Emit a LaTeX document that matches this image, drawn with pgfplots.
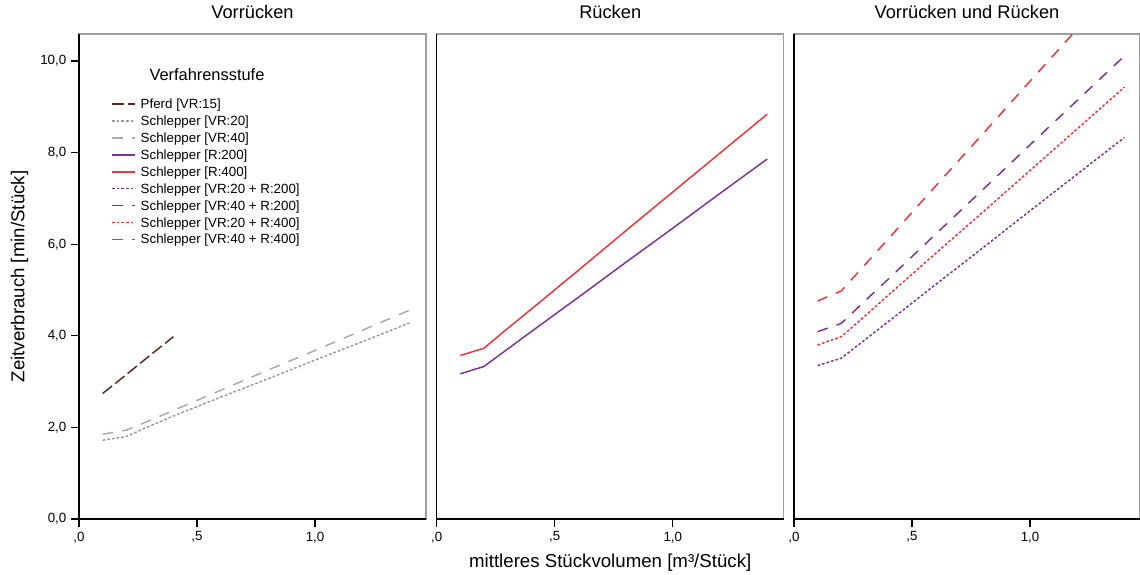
\documentclass[border=0pt]{standalone}
\usepackage{fontspec}
\setmainfont{Liberation Sans}
\usepackage{pgfplots}
\pgfplotsset{compat=1.18}
\definecolor{brn}{HTML}{5B2C1E}
\definecolor{gdot}{HTML}{999999}
\definecolor{gdash}{HTML}{AAAAAA}
\definecolor{purp}{HTML}{7D3391}
\definecolor{rd}{HTML}{F0323C}
\tikzset{
  pferd/.style={brn, line width=1.1pt, dash pattern=on 9pt off 3pt},
  vrzw/.style={gdot, line width=1.1pt, dash pattern=on 2pt off 1.5pt},
  vrvi/.style={gdash, line width=1.1pt, dash pattern=on 8pt off 7pt},
  rzw/.style={purp, line width=1.1pt},
  rvi/.style={rd, line width=1.1pt},
  czz/.style={purp, line width=1.1pt, dash pattern=on 2pt off 1.5pt},
  cvz/.style={purp, line width=1.1pt, dash pattern=on 8pt off 7pt},
  czv/.style={rd, line width=1.1pt, dash pattern=on 2pt off 1.5pt},
  cvv/.style={rd, line width=1.1pt, dash pattern=on 8pt off 7pt},
}
\pgfplotsset{panel/.style={
  scale only axis, width=260.25pt, height=363.75pt,
  xmin=0, xmax=1.47, ymin=0, ymax=10.59,
  xtick={0,0.5,1}, xticklabels={{,0},{,5},{1,0}},
  tick align=outside, xtick pos=left, ytick pos=left,
  major tick length=6pt,
  tick style={black, line width=0.9pt},
  axis line style={gray!75, line width=0.9pt},
  ticklabel style={font=\fontsize{10}{11}\selectfont, text=black},
  /pgf/number format/assume math mode=true,
  title style={at={(rel axis cs:0.5,1)}, anchor=base, yshift=5.5pt, font=\fontsize{13.7}{16}\selectfont},
  clip=true,
  extra description/.code={\draw[black,line width=0.9pt] (rel axis cs:0,1)--(rel axis cs:0,0)--(rel axis cs:1,0);},
}}
\begin{document}
\begin{tikzpicture}
\begin{axis}[panel, at={(0pt,0pt)}, anchor=south west,
  title={Vorrücken},
  ytick={0,2,4,6,8,10}, yticklabels={{0,0},{2,0},{4,0},{6,0},{8,0},{10,0}},
  ylabel={Zeitverbrauch [min/Stück]},
  every axis y label/.style={at={(rel axis cs:-0.1715,0.5)}, rotate=90, anchor=center, font=\fontsize{14}{16}\selectfont},
  legend style={at={(0.0922,0.8735)}, anchor=north west, draw=none, fill=none,
    font=\fontsize{10}{12}\selectfont, row sep=0pt, column sep=3.5pt, inner sep=0pt,
    nodes={inner xsep=0pt, inner ysep=0.65pt, text height=9pt, text depth=2.4pt, anchor=west}},
  legend cell align=left,
  legend image code/.code={\draw[#1] (0pt,0pt) -- (17.5pt,0pt);},
]
\addplot[pferd] coordinates {(0.1,2.74)(0.2,3.15)(0.3,3.57)(0.4,3.98)};
\addlegendentry{Pferd [VR:15]}
\addplot[vrzw] coordinates {(0.1,1.72)(0.2,1.80)(0.3,2.03)(0.4,2.25)(0.6,2.66)(0.8,3.06)(1.0,3.47)(1.2,3.87)(1.4,4.28)};
\addlegendentry{Schlepper [VR:20]}
\addplot[vrvi] coordinates {(0.1,1.85)(0.2,1.94)(0.3,2.15)(0.4,2.37)(0.6,2.81)(0.8,3.25)(1.0,3.68)(1.2,4.12)(1.4,4.56)};
\addlegendentry{Schlepper [VR:40]}
\addlegendimage{rzw}
\addlegendentry{Schlepper [R:200]}
\addlegendimage{rvi}
\addlegendentry{Schlepper [R:400]}
\addlegendimage{czz}
\addlegendentry{Schlepper [VR:20 + R:200]}
\addlegendimage{cvz}
\addlegendentry{Schlepper [VR:40 + R:200]}
\addlegendimage{czv}
\addlegendentry{Schlepper [VR:20 + R:400]}
\addlegendimage{cvv}
\addlegendentry{Schlepper [VR:40 + R:400]}
\node[font=\fontsize{12.3}{14}\selectfont, anchor=base] at (axis cs:0.542,9.57) {Verfahrensstufe};
\end{axis}
\begin{axis}[panel, at={(268.3pt,0pt)}, anchor=south west,
  title={Rücken}, ytick=\empty,
  xlabel={mittleres Stückvolumen [m³/Stück]},
  every axis x label/.style={at={(rel axis cs:0.5,-0.0907)}, anchor=center, font=\fontsize{14}{16}\selectfont},
]
\addplot[rvi] coordinates {(0.1,3.57)(0.2,3.73)(0.3,4.16)(0.4,4.58)(0.6,5.43)(0.8,6.29)(1.0,7.14)(1.2,7.99)(1.4,8.84)};
\addplot[rzw] coordinates {(0.1,3.17)(0.2,3.33)(0.3,3.71)(0.4,4.09)(0.6,4.84)(0.8,5.60)(1.0,6.35)(1.2,7.11)(1.4,7.86)};
\end{axis}
\begin{axis}[panel, at={(536.25pt,0pt)}, anchor=south west, width=259.5pt, xmax=1.466,
  title={Vorrücken und Rücken}, ytick=\empty,
]
\addplot[cvv] coordinates {(0.1,4.76)(0.2,4.98)(0.3,5.55)(0.4,6.12)(0.6,7.27)(0.8,8.41)(1.0,9.56)(1.2,10.70)(1.4,11.84)};
\addplot[cvz] coordinates {(0.1,4.09)(0.2,4.27)(0.3,4.76)(0.4,5.24)(0.6,6.22)(0.8,7.19)(1.0,8.17)(1.2,9.14)(1.4,10.11)};
\addplot[czv] coordinates {(0.1,3.80)(0.2,3.98)(0.3,4.43)(0.4,4.89)(0.6,5.80)(0.8,6.70)(1.0,7.61)(1.2,8.52)(1.4,9.43)};
\addplot[czz] coordinates {(0.1,3.35)(0.2,3.51)(0.3,3.91)(0.4,4.31)(0.6,5.12)(0.8,5.92)(1.0,6.73)(1.2,7.53)(1.4,8.33)};
\end{axis}
\pgfresetboundingbox
\path (-59.25pt,-42pt) rectangle (795.75pt,389.25pt);
\end{tikzpicture}
\end{document}
